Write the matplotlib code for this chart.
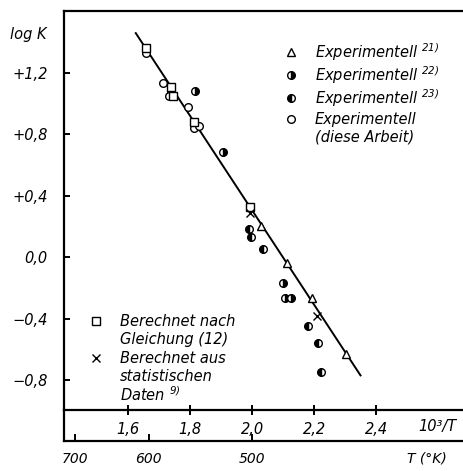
import numpy as np
import matplotlib
matplotlib.use("Agg")
import matplotlib.pyplot as plt

# values (x = 10^3/T, y = log K)
fit_x = [1.625, 2.35]
fit_y = [1.46, -0.77]

tri_x = [2.029, 2.113, 2.194, 2.303]
tri_y = [0.203, -0.038, -0.266, -0.631]

half22_x = [1.816, 1.906, 2.100, 2.106, 2.126]
half22_y = [1.083, 0.685, -0.168, -0.266, -0.266]

half23_x = [1.990, 1.997, 2.035, 2.181, 2.213, 2.223]
half23_y = [0.184, 0.132, 0.053, -0.448, -0.559, -0.748]

circ_x = [1.658, 1.713, 1.739, 1.794, 1.813, 1.829, 1.732]
circ_y = [1.330, 1.135, 1.076, 0.978, 0.842, 0.855, 1.050]

sq_x = [1.658, 1.739, 1.745, 1.813, 1.994]
sq_y = [1.363, 1.109, 1.050, 0.881, 0.327]

cross_x = [1.994, 2.210]
cross_y = [0.288, -0.383]

y_ticks = [1.2, 0.8, 0.4, 0.0, -0.4, -0.8]
y_labels = ["+1,2", "+0,8", "+0,4", "0,0", "\u22120,4", "\u22120,8"]
x_ticks = [1.6, 1.8, 2.0, 2.2, 2.4]
x_labels = ["1,6", "1,8", "2,0", "2,2", "2,4"]
t_ticks = [700, 600, 500]

plt.rcParams['font.family'] = ['DejaVu Sans']
plt.rcParams['font.style'] = 'italic'
plt.rcParams['mathtext.default'] = 'it'

W, H = 463, 471
fig = plt.figure(figsize=(W / 100, H / 100), dpi=100)

def px(x0, y0, x1, y1):
    return [x0 / W, 1 - y1 / H, (x1 - x0) / W, (y1 - y0) / H]

ax = fig.add_axes(px(64, 11, 463, 410))
ax.set_xlim(1.3935, 2.6806)
ax.set_ylim(-0.9954, 1.604)

ax.plot(fit_x, fit_y, color='black', lw=1.4, zorder=2)
mk = dict(ls='none', color='black', mec='black', ms=5.5, mew=1.0, zorder=3)
ax.plot(tri_x, tri_y, marker='^', mfc='white', **mk)
ax.plot(half22_x, half22_y, marker='o', fillstyle='right', mfcalt='white', **mk)
ax.plot(half23_x, half23_y, marker='o', fillstyle='left', mfcalt='white', **mk)
ax.plot(circ_x, circ_y, marker='o', mfc='white', **mk)
ax.plot(sq_x, sq_y, marker='s', mfc='white', **mk)
ax.plot(cross_x, cross_y, marker='x', **mk)

ax.spines['right'].set_visible(False)
for s in ['left', 'top', 'bottom']:
    ax.spines[s].set_linewidth(1.6)

ax.set_yticks(y_ticks)
ax.set_yticklabels(y_labels)
ax.set_xticks(x_ticks)
ax.set_xticklabels(x_labels)
ax.tick_params(axis='y', direction='in', length=4, width=1.4, pad=12, labelsize=10.5)
ax.tick_params(axis='x', direction='inout', length=7, width=1.4, pad=5, labelsize=10.5)

# legend texts drawn as in the original figure
def lx(p):
    return 1.6 + (p - 128) / 310
def ly(p):
    return 1.2 - (p - 73) / 153.5

top_entries = [('^', 'white', 'full', 52, "Experimentell $^{21)}$"),
               ('o', 'black', 'right', 75, "Experimentell $^{22)}$"),
               ('o', 'black', 'left', 98, "Experimentell $^{23)}$"),
               ('o', 'white', 'full', 119, "Experimentell")]
for m, fc, fs, yy, txt in top_entries:
    ax.plot([lx(291)], [ly(yy)], marker=m, mfc=fc, fillstyle=fs, mfcalt='white', **mk)
    ax.text(lx(315), ly(yy), txt, fontsize=10.5, va='center', ha='left')
ax.text(lx(315), ly(137), "(diese Arbeit)", fontsize=10.5, va='center', ha='left')

ax.plot([lx(96)], [ly(321)], marker='s', mfc='white', **mk)
ax.plot([lx(96)], [ly(358)], marker='x', **mk)
bot_lines = [(321, "Berechnet nach"), (339, "Gleichung (12)"), (358, "Berechnet aus"),
             (376, "statistischen"), (395, "Daten $^{9)}$")]
for yy, txt in bot_lines:
    ax.text(lx(120), ly(yy), txt, fontsize=10.5, va='center', ha='left')

# second scale: temperature in K
axT = fig.add_axes(px(64, 410, 463, 441))
axT.set_xlim(ax.get_xlim())
axT.set_ylim(0, 1)
axT.patch.set_alpha(0)
axT.spines['top'].set_visible(False)
axT.spines['right'].set_visible(False)
axT.spines['left'].set_linewidth(1.6)
axT.spines['bottom'].set_linewidth(1.6)
axT.set_yticks([])
axT.set_xticks([1000 / t for t in t_ticks])
axT.set_xticklabels([str(t) for t in t_ticks])
axT.tick_params(axis='x', direction='in', length=5, width=1.4, pad=8, labelsize=10)

fig.text(28 / W, 1 - 34 / H, "log K", fontsize=10.5, ha='center', va='center')
fig.text(437 / W, 1 - 427 / H, "10\u00b3/T", fontsize=10.5, ha='center', va='center')
fig.text(427 / W, 1 - 458 / H, "T (\u00b0K)", fontsize=10, ha='center', va='center')

fig.savefig("out.png", dpi=100)
